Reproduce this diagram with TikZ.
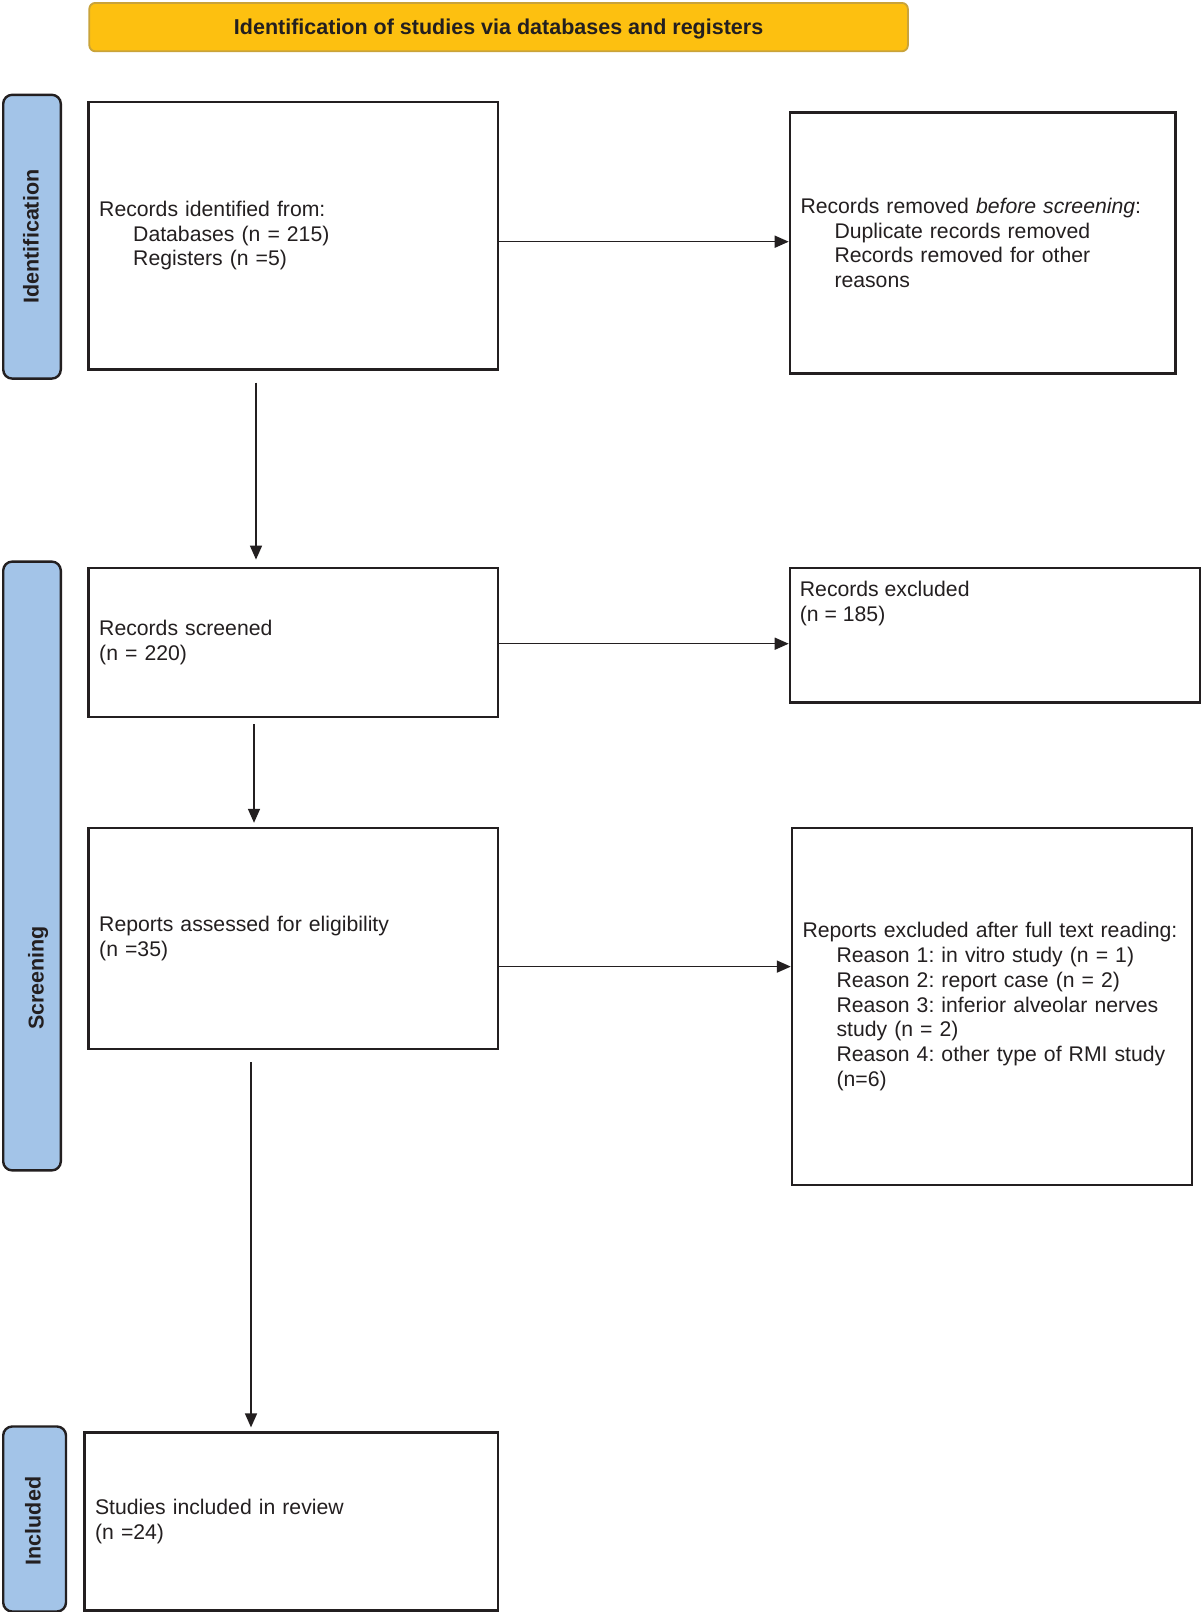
\documentclass[tikz,border=0pt]{standalone}
\usepackage{fontspec}
\setmainfont{Liberation Sans}
\frenchspacing
\usetikzlibrary{arrows.meta}
\definecolor{ink}{HTML}{231F20}
\definecolor{gold}{HTML}{FDC010}
\definecolor{goldedge}{HTML}{C9A33A}
\definecolor{skyfill}{HTML}{A3C4E8}
\tikzset{
  box/.style={draw=ink, line width=2.6pt, anchor=north west, inner xsep=10.5pt, inner ysep=0pt,
    align=left, font=\fontsize{21.2}{24.7}\selectfont\frenchspacing, text=ink},
  plaintxt/.style={anchor=north west, inner sep=0pt, align=left, font=\fontsize{21.2}{24.7}\selectfont\frenchspacing, text=ink},
  lab/.style={draw=ink, fill=skyfill, line width=2.4pt, rounded corners=9pt, anchor=north west, inner sep=0pt},
  labtxt/.style={rotate=90, font=\bfseries\fontsize{21.5}{24}\selectfont, text=ink, inner sep=0pt},
  arr/.style={draw=ink, line width=1.5pt, -{Triangle[length=14pt,width=12pt]}},
}
\begin{document}
\begin{tikzpicture}[x=1pt,y=-1pt]
\useasboundingbox (0,0) rectangle (1200,1612);
\fill[white] (0,0) rectangle (1200,1612);

% banner
\node[draw=goldedge, fill=gold, line width=1.8pt, rounded corners=6pt, anchor=north west,
  minimum width=818.6pt, minimum height=48.4pt, inner sep=0pt, text=ink, text depth=0pt,
  font=\bfseries\fontsize{21.5}{24}\selectfont] (ban) at (88.4,2)
  {Identification of studies via databases and registers};

% side labels
\node[lab, minimum width=57.6pt, minimum height=283.8pt] (lid) at (2,93.6) {};
\node[labtxt] (lidt) at (31,236.5) {Identification};
\node[lab, minimum width=57.6pt, minimum height=608.8pt] (lsc) at (2,560.4) {};
\node[labtxt] (lsct) at (38,978) {Screening};
\node[lab, minimum width=62.8pt, minimum height=185pt] (lin) at (2,1425.3) {};
\node[labtxt] (lint) at (33,1521) {Included};

% boxes
\node[box, minimum width=409.3pt, minimum height=267.3pt, text width=388.3pt] (b1) at (87.4,100.8)
  {Records identified from:\\
   \hspace*{34pt}Databases (n = 215)\\
   \hspace*{34pt}Registers (n =5)};
\node[box, minimum width=385.6pt, minimum height=261.2pt, text width=364.6pt] (b2) at (788.7,111)
  {Records removed \textit{before screening}:\\
   \hspace*{34pt}Duplicate records removed\\
   \hspace*{34pt}Records removed for other\\
   \hspace*{34pt}reasons};
\node[box, minimum width=409.3pt, minimum height=149.1pt, text width=388.3pt] (b3) at (87.4,566.6)
  {Records screened\\(n = 220)};
\node[box, minimum width=409.8pt, minimum height=134.7pt, text width=388.8pt] (b4) at (788.7,566.6) {};
\node[plaintxt] (b4t) at (799.7,581) {Records excluded\\(n = 185)};
\node[box, minimum width=409.3pt, minimum height=221pt, text width=388.3pt] (b5) at (87.4,826.8)
  {Reports assessed for eligibility\\(n =35)};
\node[box, minimum width=400pt, minimum height=357pt, text width=379pt] (b6) at (790.8,826.8)
  {\mbox{Reports excluded after full text reading:}\\
   \hspace*{34pt}Reason 1: in vitro study (n = 1)\\
   \hspace*{34pt}Reason 2: report case (n = 2)\\
   \hspace*{34pt}Reason 3: inferior alveolar nerves\\
   \hspace*{34pt}study (n = 2)\\
   \hspace*{34pt}Reason 4: other type of RMI study\\
   \hspace*{34pt}(n=6)};
\node[box, minimum width=413.4pt, minimum height=177.9pt, text width=392.4pt] (b7) at (83.3,1431.4)
  {Studies included in review\\(n =24)};

% connectors
\coordinate (h1) at (0,241.7);
\coordinate (h2) at (0,643.7);
\coordinate (h3) at (0,966.6);
\coordinate (v1) at (256,0);
\coordinate (v2) at (254,0);
\coordinate (v3) at (251,0);
\draw[arr] (b1.east |- h1) -- (b2.west |- h1);
\draw[arr] (b3.east |- h2) -- (b4.west |- h2);
\draw[arr] (b5.east |- h3) -- (b6.west |- h3);
\draw[arr, shorten <=12pt, shorten >=7pt] (b1.south -| v1) -- (b3.north -| v1);
\draw[arr, shorten <=6pt, shorten >=4pt] (b3.south -| v2) -- (b5.north -| v2);
\draw[arr, shorten <=12pt, shorten >=4pt] (b5.south -| v3) -- (b7.north -| v3);
\end{tikzpicture}
\end{document}
